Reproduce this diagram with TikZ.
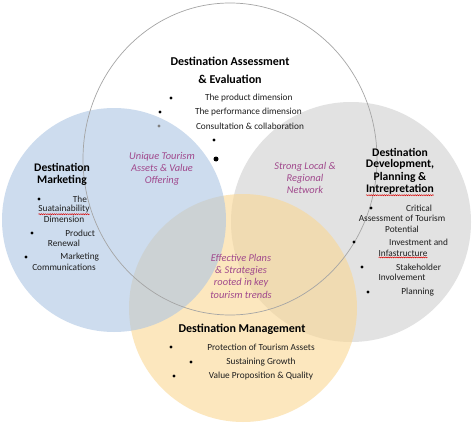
\documentclass[tikz,border=0pt]{standalone}
\usepackage{fontspec}
\setmainfont{Carlito}
\usetikzlibrary{shapes.geometric,decorations.pathmorphing}
\definecolor{cblue}{RGB}{172,197,227}
\definecolor{cgray}{RGB}{226,226,226}
\definecolor{corange}{RGB}{250,215,147}
\definecolor{cring}{RGB}{165,165,165}
\definecolor{cpurple}{RGB}{160,72,140}
\definecolor{ctext}{RGB}{30,30,30}
\begin{document}
\begin{tikzpicture}[x=1pt,y=-1pt,
  every node/.style={inner sep=0pt,outer sep=0pt},
  ring/.style={circle,minimum size=#1},
  bul/.style={circle,fill=black,minimum size=3.3pt},
  title/.style={font=\fontsize{12}{18}\selectfont\bfseries,text=black},
  subtitle/.style={font=\fontsize{11.6}{13}\selectfont\bfseries,text=black},
  item/.style={font=\fontsize{9.3}{10}\selectfont,text=ctext},
  overlap/.style={font=\fontsize{10.4}{12.3}\selectfont\itshape,text=cpurple,align=center},
  wavy/.style={draw=red!85!black,line width=0.5pt,decorate,decoration={snake,amplitude=0.5pt,segment length=2.2pt}}]
\useasboundingbox (0,0) rectangle (474,428);
\fill[white] (0,0) rectangle (474,428);
% circles
\node[ring=240pt,fill=cgray] (gray) at (351,222) {};
\node[ring=228pt,fill=corange,fill opacity=0.6] (orange) at (243,308) {};
\node[ring=224pt,fill=cblue,fill opacity=0.6] (blue) at (114,220) {};
\node[ellipse,minimum width=294pt,minimum height=312pt,draw=cring,line width=0.7pt] (top) at (230,159) {};
% top circle text
\node[title] (t1) at (230,61) {Destination Assessment};
\node[title] (t2) at (230,79) {\& Evaluation};
\node[bul] (tb1) at (171,98) {};
\node[bul] (tb2) at (160,112) {};
\node[bul,fill=gray] (tb3) at (159,126) {};
\node[bul] (tb4) at (214,140) {};
\node[bul,minimum size=5pt] (tb5) at (216,159) {};
\node[item,anchor=west] (ti1) at (205,98) {The product dimension};
\node[item,anchor=west] (ti2) at (195,112) {The performance dimension};
\node[item,anchor=west] (ti3) at (196,126) {Consultation \& collaboration};
% overlaps
\node[overlap] (o1) at (162,169) {Unique Tourism\\Assets \& Value\\Offering};
\node[overlap] (o2) at (305,178) {Strong Local \&\\Regional\\Network};
\node[overlap] (o3) at (241,276) {Effective Plans\\\& Strategies\\rooted in key\\tourism trends};
% left
\node[subtitle] (l0a) at (62,167) {Destination};
\node[subtitle] (l0b) at (62,180) {Marketing};
\node[bul] (lb1) at (39,199) {};
\node[item,anchor=east] (l1a) at (87,199) {The};
\node[item] (l1b) at (64,209) {Suatainability};
\node[item] (l1c) at (64,219) {Dimension};
\node[bul] (lb2) at (32,233) {};
\node[item,anchor=east] (l2a) at (95,233) {Product};
\node[item] (l2b) at (64,243) {Renewal};
\node[bul] (lb3) at (26,257) {};
\node[item,anchor=east] (l3a) at (99,257) {Marketing};
\node[item] (l3b) at (64,267) {Communications};
% right
\node[subtitle] (r0a) at (400,152) {Destination};
\node[subtitle] (r0b) at (400,164.5) {Development,};
\node[subtitle] (r0c) at (400,177) {Planning \&};
\node[subtitle] (r0d) at (400,189) {Intrepretation};
\node[bul] (rb1) at (371,208) {};
\node[item,anchor=east] (r1a) at (432,208) {Critical};
\node[item] (r1b) at (402,218) {Assessment of Tourism};
\node[item] (r1c) at (402,229) {Potential};
\node[bul] (rb2) at (354,242) {};
\node[item,anchor=east] (r2a) at (448,242) {Investment and};
\node[item] (r2b) at (403,253) {Infastructure};
\node[bul] (rb3) at (362,267) {};
\node[item,anchor=east] (r3a) at (441,267) {Stakeholder};
\node[item] (r3b) at (402,277) {Involvement};
\node[bul] (rb4) at (368,292) {};
\node[item,anchor=east] (r4a) at (434,292) {Planning};
% bottom
\node[title] (b0) at (242,329) {Destination Management};
\node[bul] (bb1) at (171,347) {};
\node[item] (b1) at (261,347) {Protection of Tourism Assets};
\node[bul] (bb2) at (191,362) {};
\node[item] (b2) at (261,362) {Sustaining Growth};
\node[bul] (bb3) at (174,376) {};
\node[item] (b3) at (261,376) {Value Proposition \& Quality};
% spell-check underlines
\draw[wavy] ([yshift=-1.2pt]l1b.south west) -- ([yshift=-1.2pt]l1b.south east);
\draw[wavy] ([yshift=-1.2pt]r2b.south west) -- ([yshift=-1.2pt]r2b.south east);
\draw[wavy] ([yshift=-1.2pt]r0d.south west) -- ([yshift=-1.2pt]r0d.south east);
\end{tikzpicture}
\end{document}
